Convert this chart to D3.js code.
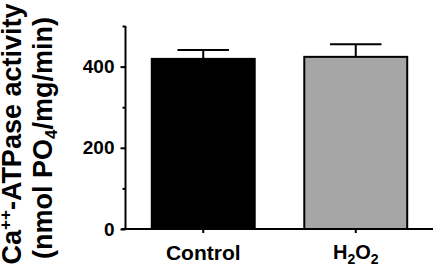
<!DOCTYPE html>
<html>
<head>
<meta charset="utf-8">
<script src="https://cdn.jsdelivr.net/npm/d3@7"></script>
<style>
  body { margin: 0; background: #fff; }
  text { font-family: "Liberation Sans", Arial, sans-serif; font-weight: bold; fill: #000; }
</style>
</head>
<body>
<svg width="435" height="267"></svg>
<script>
// Data
const groups = ["Control", "H2O2"];
const means = [419, 424];
const sems = [22, 31];
const fills = ["#000000", "#a6a6a6"];
const majorTicks = [0, 200, 400];
const minorTicks = [100, 300, 500];

const svg = d3.select("svg");

// Plot area
const x0 = 125.5, x1 = 433, yTop = 26, yBase = 229;

const y = d3.scaleLinear().domain([0, 500]).range([yBase, yTop]);
const x = d3.scaleBand().domain(groups).range([126, 433]).paddingInner(0.325).paddingOuter(0.169);

const data = groups.map((g, i) => ({g, mean: means[i], sem: sems[i], fill: fills[i]}));

// Error bars (upper only), drawn behind the bars
const err = svg.append("g");
data.forEach(d => {
  const cx = x(d.g) + x.bandwidth() / 2;
  const cw = x.bandwidth() / 4;
  err.append("line").attr("x1", cx).attr("x2", cx)
     .attr("y1", y(d.mean)).attr("y2", y(d.mean + d.sem))
     .attr("stroke", "#000").attr("stroke-width", 2);
  err.append("line").attr("x1", cx - cw).attr("x2", cx + cw)
     .attr("y1", y(d.mean + d.sem)).attr("y2", y(d.mean + d.sem))
     .attr("stroke", "#000").attr("stroke-width", 2);
});

// Bars
svg.selectAll(".bar")
   .data(data)
   .enter()
   .append("rect")
   .attr("x", d => x(d.g))
   .attr("y", d => y(d.mean))
   .attr("width", x.bandwidth())
   .attr("height", d => yBase - y(d.mean))
   .attr("fill", d => d.fill)
   .attr("stroke", "#000")
   .attr("stroke-width", 2);

// Y axis: major ticks with labels
const yAxis = svg.append("g").attr("transform", `translate(${x0},0)`);
yAxis.call(d3.axisLeft(y).tickValues(majorTicks).tickSize(5).tickPadding(6).tickSizeOuter(0));
yAxis.select(".domain").attr("stroke-width", 2).attr("d", `M0,${yTop}V${yBase}`);
yAxis.selectAll(".tick line").attr("stroke-width", 2);
yAxis.selectAll(".tick text").attr("font-size", 19).attr("font-weight", "bold")
     .attr("fill", "#000").attr("font-family", "Liberation Sans, Arial, sans-serif");

// Minor ticks
svg.append("g").attr("transform", `translate(${x0},0)`)
   .call(d3.axisLeft(y).tickValues(minorTicks).tickSize(3).tickFormat(""))
   .call(g => g.select(".domain").remove())
   .selectAll(".tick line").attr("stroke-width", 2);

// X axis
const xAxis = svg.append("g").attr("transform", `translate(0,${yBase})`);
xAxis.call(d3.axisBottom(x).tickSize(4).tickSizeOuter(0).tickFormat(""));
xAxis.select(".domain").attr("stroke-width", 2).attr("d", `M${x0 - 4},0H${x1}`);
xAxis.selectAll(".tick line").attr("stroke-width", 2);

// Category labels
const labY = 260;
svg.append("text")
   .attr("x", x("Control") + x.bandwidth() / 2).attr("y", labY)
   .attr("text-anchor", "middle").attr("font-size", 21)
   .text("Control");

const h2 = svg.append("text")
   .attr("x", x("H2O2") + x.bandwidth() / 2).attr("y", labY - 1)
   .attr("text-anchor", "middle").attr("font-size", 20);
h2.append("tspan").text("H");
h2.append("tspan").attr("font-size", 14).attr("dy", 5).text("2");
h2.append("tspan").attr("dy", -5).text("O");
h2.append("tspan").attr("font-size", 14).attr("dy", 5).text("2");

// Y axis title (two lines, rotated)
const t1 = svg.append("text")
   .attr("transform", `translate(21,134) rotate(-90)`)
   .attr("text-anchor", "middle").attr("font-size", 27);
t1.append("tspan").text("Ca");
t1.append("tspan").attr("font-size", 17).attr("dy", -10).text("++");
t1.append("tspan").attr("dy", 10).text("-ATPase activity");

const t2 = svg.append("text")
   .attr("transform", `translate(52,138) rotate(-90)`)
   .attr("text-anchor", "middle").attr("font-size", 27);
t2.append("tspan").text("(nmol PO");
t2.append("tspan").attr("font-size", 17).attr("dy", 5).text("4");
t2.append("tspan").attr("dy", -5).text("/mg/min)");
</script>
</body>
</html>
